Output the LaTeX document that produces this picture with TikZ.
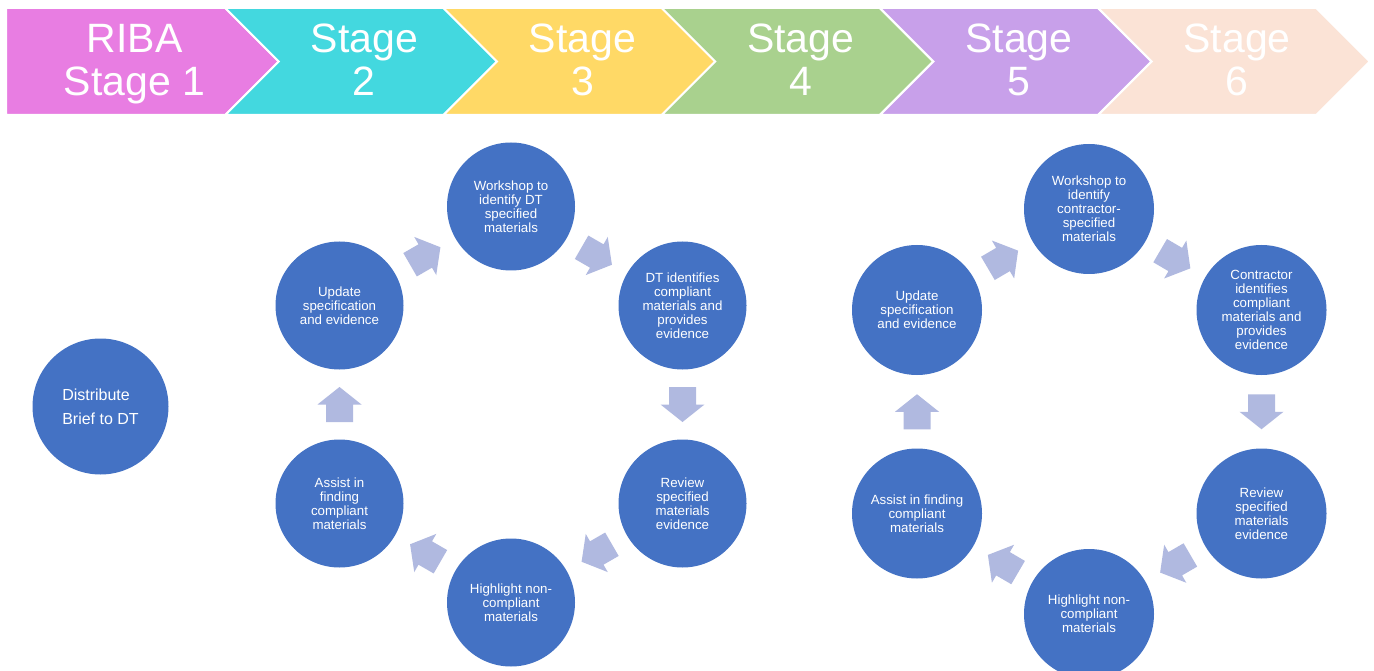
\documentclass[tikz,border=0pt]{standalone}
\usepackage{fontspec}
\setmainfont{Liberation Sans}
\usetikzlibrary{calc}
\definecolor{cpink}{HTML}{E87DE2}
\definecolor{cteal}{HTML}{43D8DF}
\definecolor{cyellow}{HTML}{FFD966}
\definecolor{cgreen}{HTML}{A9D18E}
\definecolor{cpurple}{HTML}{C8A0EA}
\definecolor{cpeach}{HTML}{FBE3D6}
\definecolor{cblue}{HTML}{4472C4}
\definecolor{carrow}{HTML}{B0B9E0}
\tikzset{
  chev/.style={draw=white, line width=2pt, line join=miter},
  chevtext/.style={text=white, align=center, inner sep=0pt, font=\fontsize{41}{43.5}\selectfont},
  stepnode/.style={circle, fill=cblue, text=white, align=center, inner sep=0pt, minimum size=128pt, font=\fontsize{13.3}{14}\selectfont},
  bigstep/.style={stepnode, minimum size=130pt},
  pics/cyclearr/.style={code={\fill[carrow] (-17.5,-13.5) -- (0,-13.5) -- (0,-22) -- (17.5,0) -- (0,22) -- (0,13.5) -- (-17.5,13.5) -- cycle;}}
}
\newcommand\cyclearrow[2]{\path let \p1=(#1.center), \p2=(#2.center), \n1={atan2(\y2-\y1,\x2-\x1)} in pic[rotate=\n1] at ($(#1.center)!0.5!(#2.center)$) {cyclearr};}
\begin{document}
\begin{tikzpicture}[x=1pt,y=-1pt]
\fill[white] (0,0) rectangle (1374,671);
\useasboundingbox (0,0) rectangle (1374,671);
% chevrons
\filldraw[chev, fill=cpink] (6,8) -- (225.3,8) -- (278.8,61.5) -- (225.3,115) -- (6,115) -- cycle;
\filldraw[chev, fill=cteal] (225.3,8) -- (443.5,8) -- (497,61.5) -- (443.5,115) -- (225.3,115) -- (278.8,61.5) -- cycle;
\filldraw[chev, fill=cyellow] (443.5,8) -- (661.7,8) -- (715.2,61.5) -- (661.7,115) -- (443.5,115) -- (497,61.5) -- cycle;
\filldraw[chev, fill=cgreen] (661.7,8) -- (879.9,8) -- (933.4,61.5) -- (879.9,115) -- (661.7,115) -- (715.2,61.5) -- cycle;
\filldraw[chev, fill=cpurple] (879.9,8) -- (1098.1,8) -- (1151.6,61.5) -- (1098.1,115) -- (879.9,115) -- (933.4,61.5) -- cycle;
\filldraw[chev, fill=cpeach] (1098.1,8) -- (1316.3,8) -- (1369.8,61.5) -- (1316.3,115) -- (1098.1,115) -- (1151.6,61.5) -- cycle;
\node[chevtext] (s1) at (134.5,65.5) {\strut RIBA\\\strut Stage 1};
\node[chevtext] (s2) at (364.3,65.5) {\strut Stage\\\strut 2};
\node[chevtext] (s3) at (582.5,65.5) {\strut Stage\\\strut 3};
\node[chevtext] (s4) at (800.7,65.5) {\strut Stage\\\strut 4};
\node[chevtext] (s5) at (1018.9,65.5) {\strut Stage\\\strut 5};
\node[chevtext] (s6) at (1237.1,65.5) {\strut Stage\\\strut 6};
% stage 1 circle
\node[stepnode, minimum size=136pt, align=left, font=\fontsize{16}{24}\selectfont] (dist) at (100.5,406.5) {Distribute\\Brief to DT};
% left cycle
\node[stepnode] (lw) at (511,206.5) {Workshop to\\identify DT\\specified\\materials};
\node[stepnode] (ld) at (682.5,305.5) {DT identifies\\compliant\\materials and\\provides\\evidence};
\node[stepnode] (lr) at (682.5,503.5) {Review\\specified\\materials\\evidence};
\node[stepnode] (lh) at (511,602.5) {Highlight non-\\compliant\\materials};
\node[stepnode] (la) at (339.5,503.5) {Assist in\\finding\\compliant\\materials};
\node[stepnode] (lu) at (339.5,305.5) {Update\\specification\\and evidence};
\cyclearrow{lu}{lw}
\cyclearrow{lw}{ld}
\cyclearrow{ld}{lr}
\cyclearrow{lr}{lh}
\cyclearrow{lh}{la}
\cyclearrow{la}{lu}
% right cycle
\node[bigstep] (rw) at (1089,209) {Workshop to\\identify\\contractor-\\specified\\materials};
\node[bigstep] (rc) at (1261.5,310) {Contractor\\identifies\\compliant\\materials and\\provides\\evidence};
\node[bigstep] (rr) at (1261.5,513.5) {Review\\specified\\materials\\evidence};
\node[bigstep] (rh) at (1089,614) {Highlight non-\\compliant\\materials};
\node[bigstep] (ra) at (917,513.5) {Assist in finding\\compliant\\materials};
\node[bigstep] (ru) at (917,310) {Update\\specification\\and evidence};
\cyclearrow{ru}{rw}
\cyclearrow{rw}{rc}
\cyclearrow{rc}{rr}
\cyclearrow{rr}{rh}
\cyclearrow{rh}{ra}
\cyclearrow{ra}{ru}
\end{tikzpicture}
\end{document}
